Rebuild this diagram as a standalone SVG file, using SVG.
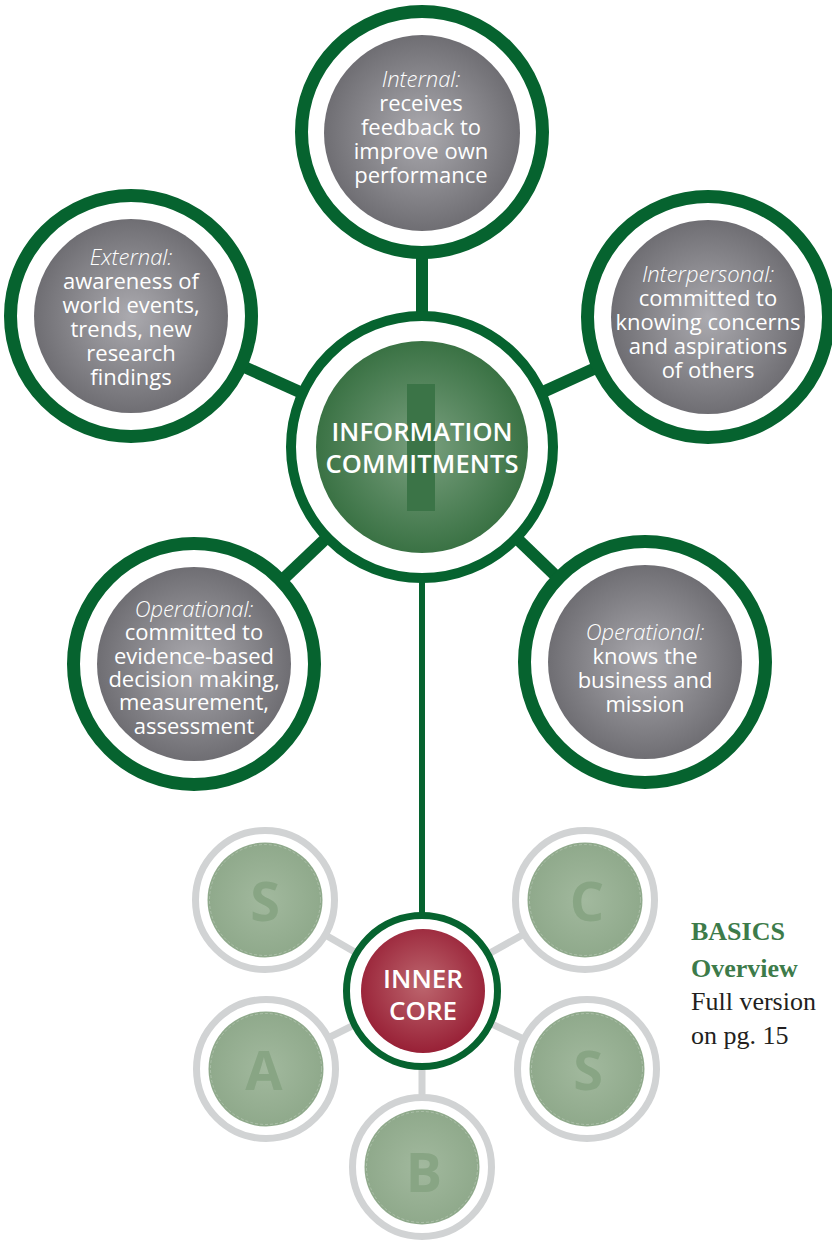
<svg xmlns="http://www.w3.org/2000/svg" width="832" height="1241" viewBox="0 0 832 1241">
<defs>
<radialGradient id="gGray" cx="50%" cy="50%" r="50%">
<stop offset="0" stop-color="#abaaaf"/>
<stop offset="1" stop-color="#6f6e73"/>
</radialGradient>
<radialGradient id="gGreen" cx="50%" cy="50%" r="50%">
<stop offset="0" stop-color="#7aa07f"/>
<stop offset="1" stop-color="#3a7244"/>
</radialGradient>
<radialGradient id="gRed" cx="50%" cy="45%" r="55%">
<stop offset="0" stop-color="#bd666e"/>
<stop offset="1" stop-color="#982036"/>
</radialGradient>
<radialGradient id="gSmall" cx="50%" cy="50%" r="50%">
<stop offset="0" stop-color="#a2b99e"/>
<stop offset="1" stop-color="#8fa98b"/>
</radialGradient>
<style>
.ring{fill:#fff;stroke:#06632f;stroke-width:13}
.disc{fill:url(#gGray)}
.lbl{font-family:"Open Sans","Noto Sans",sans-serif;font-size:22px;fill:#fff;text-anchor:middle}
.it{font-style:italic;font-weight:300}
.conn{stroke:#06632f;stroke-width:12;fill:none}
.thin{stroke:#06632f;stroke-width:6;fill:none}
.gconn{stroke:#d1d3d4;stroke-width:7;fill:none}
.sring{fill:#fff;stroke:#d1d3d4;stroke-width:7}
.sdisc{fill:url(#gSmall)}
.sdash{fill:none;stroke:#fff;stroke-opacity:0.3;stroke-width:0.8;stroke-dasharray:3 2}
.let{font-family:"Open Sans","Noto Sans",sans-serif;font-weight:700;font-size:54px;fill:#88a584;text-anchor:middle}
.hd{font-family:"Open Sans","Noto Sans",sans-serif;font-weight:600;fill:#fff;text-anchor:middle}
.ser{font-family:"Liberation Serif","Times New Roman",serif;font-size:26px}
</style>
</defs>
<rect width="832" height="1241" fill="#fff"/>

<g id="connectors">
<line class="conn" x1="422" y1="132" x2="422" y2="447"/>
<line class="conn" x1="131" y1="316" x2="422" y2="447"/>
<line class="conn" x1="708" y1="317" x2="422" y2="447"/>
<line class="conn" x1="194" y1="664" x2="422" y2="447"/>
<line class="conn" x1="645" y1="662" x2="422" y2="447"/>
<line class="thin" x1="422" y1="447" x2="422" y2="991"/>
<line class="gconn" x1="265" y1="900" x2="422" y2="991"/>
<line class="gconn" x1="585" y1="900" x2="422" y2="991"/>
<line class="gconn" x1="266" y1="1069" x2="422" y2="991"/>
<line class="gconn" x1="587" y1="1069" x2="422" y2="991"/>
<line class="gconn" x1="422" y1="1167" x2="422" y2="991"/>
</g>

<g id="node-internal">
<circle class="ring" cx="422" cy="132" r="120.5"/>
<circle class="disc" cx="422" cy="133" r="98"/>
<text class="lbl"><tspan class="it" x="421" y="87">Internal:</tspan><tspan x="421" y="111">receives</tspan><tspan x="421" y="135">feedback to</tspan><tspan x="421" y="159">improve own</tspan><tspan x="421" y="183">performance</tspan></text>
</g>

<g id="node-external">
<circle class="ring" cx="131" cy="316" r="120.5"/>
<circle class="disc" cx="131" cy="316" r="97"/>
<text class="lbl"><tspan class="it" x="131" y="265">External:</tspan><tspan x="131" y="289">awareness of</tspan><tspan x="131" y="313">world events,</tspan><tspan x="131" y="337">trends, new</tspan><tspan x="131" y="361">research</tspan><tspan x="131" y="385">findings</tspan></text>
</g>

<g id="node-interpersonal">
<circle class="ring" cx="708" cy="317" r="120.5"/>
<circle class="disc" cx="708" cy="317" r="97"/>
<text class="lbl"><tspan class="it" x="708" y="282">Interpersonal:</tspan><tspan x="708" y="306">committed to</tspan><tspan x="708" y="330">knowing concerns</tspan><tspan x="708" y="354">and aspirations</tspan><tspan x="708" y="378">of others</tspan></text>
</g>

<g id="node-operational-left">
<circle class="ring" cx="194" cy="664" r="120.5"/>
<circle class="disc" cx="194" cy="664" r="97"/>
<text class="lbl"><tspan class="it" x="194" y="617">Operational:</tspan><tspan x="194" y="640">committed to</tspan><tspan x="194" y="664">evidence-based</tspan><tspan x="194" y="687">decision making,</tspan><tspan x="194" y="710">measurement,</tspan><tspan x="194" y="734">assessment</tspan></text>
</g>

<g id="node-operational-right">
<circle class="ring" cx="645" cy="662" r="120.5"/>
<circle class="disc" cx="645" cy="662" r="97"/>
<text class="lbl"><tspan class="it" x="645" y="640">Operational:</tspan><tspan x="645" y="664">knows the</tspan><tspan x="645" y="688">business and</tspan><tspan x="645" y="712">mission</tspan></text>
</g>

<g id="node-center">
<circle cx="422" cy="447" r="131" fill="#fff" stroke="#06632f" stroke-width="10"/>
<circle cx="422" cy="447" r="106" fill="url(#gGreen)"/>
<rect x="407" y="384" width="28" height="127" fill="#3b7447"/>
<text class="hd" font-size="25.5"><tspan x="422" y="441" textLength="181">INFORMATION</tspan><tspan x="422" y="473" textLength="193">COMMITMENTS</tspan></text>
</g>

<g id="node-s1">
<circle class="sring" cx="265" cy="900" r="69.5"/>
<circle class="sdisc" cx="265" cy="900" r="57.5"/>
<circle class="sdash" cx="265" cy="900" r="55.5"/>
<text class="let" x="265" y="921">S</text>
</g>
<g id="node-c">
<circle class="sring" cx="585" cy="900" r="69.5"/>
<circle class="sdisc" cx="585" cy="900" r="57.5"/>
<circle class="sdash" cx="585" cy="900" r="55.5"/>
<text class="let" x="587" y="921">C</text>
</g>
<g id="node-a">
<circle class="sring" cx="266" cy="1069" r="69.5"/>
<circle class="sdisc" cx="266" cy="1069" r="57.5"/>
<circle class="sdash" cx="266" cy="1069" r="55.5"/>
<text class="let" x="264" y="1090">A</text>
</g>
<g id="node-s2">
<circle class="sring" cx="587" cy="1069" r="69.5"/>
<circle class="sdisc" cx="587" cy="1069" r="57.5"/>
<circle class="sdash" cx="587" cy="1069" r="55.5"/>
<text class="let" x="588" y="1090">S</text>
</g>
<g id="node-b">
<circle class="sring" cx="422" cy="1167" r="69.5"/>
<circle class="sdisc" cx="422" cy="1167" r="57.5"/>
<circle class="sdash" cx="422" cy="1167" r="55.5"/>
<text class="let" x="424" y="1192">B</text>
</g>

<g id="node-inner-core">
<circle cx="422" cy="991" r="75.5" fill="#fff" stroke="#06632f" stroke-width="7"/>
<circle cx="423" cy="991" r="62" fill="url(#gRed)"/>
<text class="hd" font-size="26" font-weight="700"><tspan x="423" y="988">INNER</tspan><tspan x="423" y="1020">CORE</tspan></text>
</g>

<g id="note">
<text class="ser" x="691" y="940" fill="#3d7b4a" font-weight="700">BASICS</text>
<text class="ser" x="691" y="977" fill="#3d7b4a" font-weight="700">Overview</text>
<text class="ser" x="691" y="1010" fill="#231f20">Full version</text>
<text class="ser" x="691" y="1044" fill="#231f20">on pg. 15</text>
</g>
</svg>
